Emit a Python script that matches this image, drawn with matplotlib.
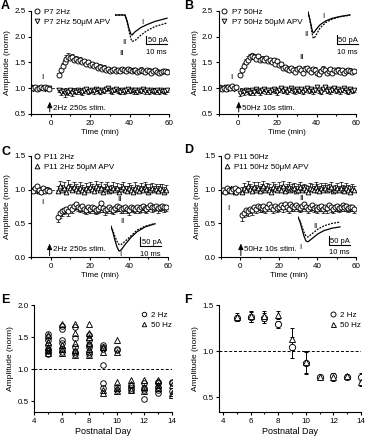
import matplotlib

matplotlib.use("Agg")
import matplotlib.pyplot as plt
from matplotlib.lines import Line2D
from matplotlib.ticker import FormatStrFormatter, MultipleLocator

plt.rcParams["font.family"] = ["Liberation Sans", "DejaVu Sans"]

W, H = 366, 440


def vals(s):
    return [float(v) for v in s.split()]


# sample times (min): 10 min baseline, then post-stimulation
t_2hz = list(range(-10, 0)) + list(range(4, 60))
t_50hz = list(range(-10, 0)) + list(range(1, 60))

# A: P7 2Hz
a_ctl = vals("""1.02 1.00 1.03 0.99 1.01 1.02 1.00 1.03 1.01 0.99
1.25 1.35 1.43 1.50 1.56 1.60 1.58 1.60 1.55 1.57
1.53 1.55 1.50 1.52 1.48 1.50 1.46 1.47 1.43 1.45
1.40 1.42 1.38 1.40 1.36 1.38 1.34 1.36 1.37 1.33
1.35 1.34 1.38 1.35 1.33 1.37 1.35 1.33 1.36 1.35
1.31 1.34 1.36 1.33 1.32 1.36 1.34 1.30 1.33 1.35
1.32 1.29 1.31 1.34 1.33 1.32""")
a_ctl_err = vals("""0.02 0.03 0.02 0.02 0.03 0.02 0.02 0.03 0.02 0.02
0.04 0.05 0.06 0.07 0.08 0.08 0.07 0.06 0.06 0.05
0.05 0.06 0.05 0.05 0.04 0.05 0.05 0.04 0.05 0.04
0.04 0.05 0.04 0.05 0.04 0.04 0.05 0.04 0.04 0.05
0.04 0.05 0.04 0.05 0.04 0.05 0.04 0.05 0.04 0.04
0.05 0.04 0.05 0.04 0.05 0.04 0.05 0.04 0.05 0.04
0.05 0.04 0.05 0.04 0.04 0.05""")
a_apv = vals("""1.00 0.99 1.01 1.00 0.98 1.01 1.00 0.99 1.00 1.00
0.97 0.93 0.95 0.90 0.94 0.92 0.96 0.91 0.95 0.93
0.97 0.94 0.92 0.96 0.98 0.93 0.95 0.97 0.94 0.99
0.96 0.93 0.97 0.95 0.98 1.00 0.96 0.94 0.97 0.99
0.95 0.93 0.97 0.94 0.96 0.98 0.95 0.97 0.94 0.96
0.93 0.97 0.95 0.98 0.94 0.96 0.93 0.97 0.95 0.94
0.96 0.93 0.97 0.95 0.94 0.96""")
a_apv_err = vals("""0.02 0.02 0.03 0.02 0.02 0.03 0.02 0.02 0.03 0.02
0.05 0.06 0.05 0.07 0.05 0.06 0.05 0.06 0.05 0.05
0.04 0.05 0.06 0.05 0.04 0.05 0.05 0.04 0.05 0.04
0.05 0.05 0.04 0.05 0.04 0.04 0.05 0.05 0.04 0.04
0.05 0.05 0.04 0.05 0.05 0.04 0.05 0.04 0.05 0.04
0.05 0.04 0.05 0.04 0.05 0.04 0.05 0.04 0.04 0.05
0.04 0.05 0.04 0.05 0.05 0.04""")

# B: P7 50Hz
b_ctl = vals("""1.02 1.00 0.98 1.01 0.99 1.03 1.00 1.04 1.01 1.02
1.25 1.35 1.43 1.50 1.55 1.60 1.62 1.60 1.57 1.62
1.55 1.57 1.55 1.58 1.52 1.55 1.50 1.55 1.48 1.52
1.45 1.47 1.40 1.42 1.38 1.35 1.40 1.36 1.32 1.37
1.40 1.35 1.30 1.38 1.40 1.35 1.32 1.38 1.36 1.30
1.27 1.33 1.38 1.35 1.30 1.33 1.37 1.30 1.35 1.33
1.36 1.32 1.35 1.30 1.33 1.36 1.34 1.32 1.33""")
b_ctl_err = vals("""0.02 0.02 0.03 0.02 0.02 0.03 0.02 0.03 0.02 0.02
0.04 0.05 0.06 0.06 0.07 0.07 0.07 0.06 0.06 0.05
0.05 0.05 0.05 0.04 0.05 0.04 0.05 0.04 0.05 0.04
0.05 0.04 0.05 0.04 0.05 0.05 0.04 0.05 0.04 0.05
0.04 0.05 0.04 0.05 0.04 0.05 0.05 0.04 0.05 0.04
0.05 0.04 0.05 0.04 0.05 0.04 0.05 0.04 0.05 0.04
0.05 0.04 0.05 0.04 0.05 0.04 0.05 0.04 0.05""")
b_apv = vals("""1.00 1.01 0.99 1.00 1.02 0.99 1.01 1.00 0.98 1.00
0.90 0.95 0.92 0.97 0.94 0.91 0.96 0.93 0.98 0.95
0.92 0.96 0.99 0.94 0.97 0.93 0.96 0.99 0.95 0.92
0.97 1.00 0.95 0.98 0.93 0.97 1.01 0.96 0.94 0.98
0.95 0.99 0.93 0.97 1.00 0.95 0.98 0.94 0.97 1.02
0.96 0.93 0.99 1.03 0.95 0.98 0.94 0.97 1.00 0.95
0.98 0.94 0.97 1.01 0.96 0.93 0.98 0.95 0.97""")
b_apv_err = vals("""0.02 0.02 0.03 0.02 0.03 0.02 0.02 0.03 0.02 0.02
0.06 0.05 0.06 0.05 0.06 0.05 0.05 0.06 0.05 0.05
0.05 0.05 0.04 0.05 0.05 0.05 0.04 0.05 0.05 0.05
0.05 0.04 0.05 0.05 0.05 0.04 0.04 0.05 0.05 0.05
0.05 0.04 0.05 0.05 0.04 0.05 0.05 0.05 0.04 0.04
0.05 0.05 0.04 0.04 0.05 0.05 0.05 0.04 0.04 0.05
0.05 0.05 0.04 0.04 0.05 0.05 0.04 0.05 0.05""")

# C: P11 2Hz
c_ctl = vals("""1.00 0.98 1.02 1.05 1.00 0.97 1.02 0.98 1.00 0.98
0.60 0.65 0.68 0.70 0.72 0.68 0.75 0.72 0.76 0.78
0.75 0.73 0.76 0.72 0.70 0.74 0.72 0.75 0.73 0.70
0.72 0.74 0.80 0.73 0.70 0.72 0.75 0.72 0.70 0.73
0.76 0.74 0.71 0.73 0.75 0.72 0.70 0.74 0.73 0.72
0.75 0.72 0.74 0.76 0.73 0.72 0.74 0.77 0.74 0.75
0.76 0.73 0.75 0.76 0.74 0.75""")
c_ctl_err = vals("""0.02 0.03 0.02 0.03 0.02 0.03 0.02 0.02 0.03 0.02
0.08 0.07 0.07 0.06 0.06 0.07 0.06 0.06 0.06 0.07
0.06 0.06 0.07 0.06 0.06 0.07 0.06 0.06 0.07 0.06
0.06 0.07 0.06 0.06 0.07 0.06 0.06 0.07 0.06 0.06
0.07 0.06 0.06 0.07 0.06 0.06 0.07 0.06 0.06 0.07
0.06 0.06 0.07 0.06 0.06 0.07 0.06 0.06 0.07 0.06
0.06 0.07 0.06 0.06 0.07 0.06""")
c_apv = vals("""1.00 1.01 0.99 1.00 0.98 1.01 1.00 0.99 1.01 1.00
0.98 1.05 1.00 1.03 0.97 1.06 1.02 0.99 1.04 1.01
0.98 1.03 1.00 0.97 1.02 0.99 1.04 1.01 0.98 1.05
1.02 0.99 1.03 0.97 1.01 1.04 0.98 1.00 1.03 0.99
1.02 0.97 1.01 1.04 0.99 0.98 1.02 1.00 0.97 1.03
1.00 0.98 1.02 0.99 1.04 1.01 0.97 1.00 1.03 0.99
1.01 0.98 1.02 1.00 0.97 1.00""")
c_apv_err = vals("""0.02 0.02 0.03 0.02 0.02 0.03 0.02 0.02 0.03 0.02
0.07 0.08 0.07 0.09 0.07 0.08 0.07 0.07 0.08 0.07
0.07 0.08 0.07 0.07 0.08 0.07 0.08 0.07 0.07 0.08
0.07 0.07 0.08 0.07 0.07 0.08 0.07 0.07 0.08 0.07
0.08 0.07 0.07 0.08 0.07 0.07 0.08 0.07 0.07 0.08
0.07 0.07 0.08 0.07 0.08 0.07 0.07 0.08 0.07 0.07
0.08 0.07 0.07 0.08 0.07 0.07""")

# D: P11 50Hz
d_ctl = vals("""0.98 1.00 0.97 1.02 1.00 0.98 1.01 1.03 0.96 1.00
0.62 0.66 0.70 0.68 0.72 0.70 0.74 0.72 0.76 0.74
0.73 0.76 0.72 0.75 0.78 0.74 0.72 0.76 0.73 0.75
0.77 0.74 0.78 0.75 0.72 0.79 0.76 0.74 0.77 0.75
0.73 0.76 0.78 0.74 0.72 0.75 0.77 0.73 0.75 0.72
0.74 0.76 0.72 0.75 0.73 0.77 0.74 0.72 0.75 0.76
0.73 0.75 0.77 0.74 0.76 0.73 0.75 0.74 0.72""")
d_ctl_err = vals("""0.02 0.03 0.02 0.03 0.02 0.02 0.03 0.02 0.03 0.02
0.08 0.07 0.07 0.07 0.06 0.07 0.06 0.07 0.06 0.07
0.06 0.07 0.06 0.06 0.07 0.06 0.07 0.06 0.06 0.07
0.06 0.07 0.06 0.06 0.07 0.06 0.07 0.06 0.06 0.07
0.06 0.07 0.06 0.06 0.07 0.06 0.07 0.06 0.06 0.07
0.06 0.07 0.06 0.06 0.07 0.06 0.07 0.06 0.06 0.07
0.06 0.07 0.06 0.06 0.07 0.06 0.07 0.06 0.06""")
d_apv = vals("""1.00 0.99 1.01 0.98 1.00 1.02 0.99 0.97 1.00 1.01
0.97 1.02 0.99 1.05 1.01 0.98 1.04 1.00 1.03 0.98
1.02 1.05 0.99 1.03 1.00 0.97 1.04 1.01 0.99 1.03
1.00 1.05 0.98 1.02 1.04 0.99 1.01 1.03 0.98 1.00
1.04 0.99 1.02 1.00 0.97 1.03 1.01 0.99 1.04 1.00
0.98 1.02 1.00 1.03 0.99 1.01 1.04 0.98 1.00 1.02
0.99 1.03 1.00 0.98 1.02 1.00 0.97 1.01 0.99""")
d_apv_err = vals("""0.02 0.03 0.02 0.02 0.03 0.02 0.02 0.03 0.02 0.02
0.07 0.08 0.07 0.08 0.07 0.07 0.08 0.07 0.08 0.07
0.07 0.08 0.07 0.07 0.08 0.07 0.08 0.07 0.07 0.08
0.07 0.08 0.07 0.07 0.08 0.07 0.08 0.07 0.07 0.08
0.07 0.08 0.07 0.07 0.08 0.07 0.08 0.07 0.07 0.08
0.07 0.08 0.07 0.07 0.08 0.07 0.08 0.07 0.07 0.08
0.07 0.08 0.07 0.07 0.08 0.07 0.08 0.07 0.07""")

# example EPSC traces (ms, pA): I = baseline, II = after induction
tr_t_a = [0, 5, 6, 7, 8, 8.5, 10, 13, 16, 20, 26]
tr_a_1 = [0, 0, -35, -85, -120, -125, -105, -78, -60, -40, -20]
tr_a_2 = [0, 0, -40, -100, -150, -165, -160, -125, -98, -72, -50]
tr_t_b = [0, 1, 2, 2.5, 3, 4, 6, 9, 12, 16, 21]
tr_b_1 = [0, -50, -110, -130, -128, -110, -80, -55, -40, -28, -18]
tr_b_2 = [0, -55, -130, -160, -165, -145, -100, -65, -45, -30, -20]
tr_t_c = [0, 1, 2, 3, 4, 5, 7, 10, 13, 17, 22]
tr_c_1 = [-20, -60, -110, -150, -175, -170, -135, -90, -55, -25, -5]
tr_c_2 = [-20, -50, -85, -115, -135, -135, -115, -80, -45, -20, -3]
tr_t_d = [0, 1, 2, 3, 4, 5, 7, 10, 13, 17, 21]
tr_d_1 = [0, -30, -75, -120, -150, -155, -135, -105, -85, -70, -62]
tr_d_2 = [0, -25, -60, -95, -120, -125, -105, -75, -55, -40, -32]

# E: individual experiments
e_day_2hz = vals("""5 5 5 5 5 5 5 6 6 6 6 6 6 7 7 7 7 7 8 8 8 8 8 8
9 9 9 9 9 9 10 10 10 10 11 11 11 12 12 12 12 13 13 13 13 13 14 14 14""")
e_amp_2hz = vals("""1.54 1.50 1.45 1.37 1.32 1.28 1.23 1.67 1.62 1.46 1.41 1.31 1.26
1.66 1.48 1.35 1.27 1.23 1.53 1.45 1.38 1.35 1.27 1.23
1.38 1.35 1.31 1.06 0.78 0.71 1.32 1.29 0.72 0.67 0.75 0.71 0.67
0.78 0.70 0.67 0.53 0.80 0.78 0.72 0.68 0.62 0.80 0.78 0.65""")
e_day_50hz = vals("""5 5 5 5 5 6 6 6 6 7 7 7 7 7 8 8 8 8 8 8
9 9 9 9 10 10 10 10 10 11 11 11 12 12 12 13 13 13 14 14 14""")
e_amp_50hz = vals("""1.53 1.43 1.35 1.30 1.25 1.70 1.38 1.32 1.25 1.71 1.56 1.40 1.30 1.22
1.71 1.57 1.50 1.40 1.31 1.22 1.34 1.27 0.67 0.62 1.46 1.26 0.80 0.70 0.65
0.83 0.77 0.67 0.83 0.72 0.65 0.83 0.75 0.70 0.75 0.62 0.60""")

# F: mean +/- SEM per postnatal day
f_days = [5, 6, 7, 8, 9, 10, 11, 12, 13, 14]
f_2hz = [1.36, 1.37, 1.36, 1.29, 1.04, 0.87, 0.72, 0.73, 0.72, 0.72]
f_2hz_err = [0.03, 0.05, 0.05, 0.04, 0.11, 0.12, 0.02, 0.03, 0.02, 0.04]
f_50hz = [1.37, 1.38, 1.38, 1.39, 1.13, 0.88, 0.72, 0.72, 0.73, 0.67]
f_50hz_err = [0.04, 0.06, 0.05, 0.04, 0.12, 0.12, 0.02, 0.04, 0.02, 0.05]

fig = plt.figure(figsize=(W / 100, H / 100), dpi=100)

TICK_FS = 5.8
LEG_FS = 5.8
YLAB_FS = 6


def box(l, t, r, b):
    # pixel box -> figure fraction rect
    return [l / W, 1 - b / H, (r - l) / W, (b - t) / H]


def ftext(x, y, s, **kw):
    kw.setdefault("fontsize", 5.5)
    fig.text(x / W, 1 - y / H, s, **kw)


def fline(xs, ys):
    fig.add_artist(Line2D([x / W for x in xs], [1 - y / H for y in ys], color="k", lw=0.8))


def style(ax):
    for s in ("top", "right"):
        ax.spines[s].set_visible(False)
    for s in ("left", "bottom"):
        ax.spines[s].set_linewidth(0.8)
    ax.tick_params(which="both", direction="out", width=0.8, labelsize=TICK_FS, pad=1.5)
    ax.tick_params(which="major", length=2.5)
    ax.tick_params(which="minor", length=1.5)


def one_sided(err, up):
    zeros = [0] * len(err)
    return [zeros, err] if up else [err, zeros]


def timecourse(ax, t, ctl, ctl_err, apv, apv_err, tri, ctl_up, labels):
    ax.axhline(1.0, color="k", lw=0.6, ls=(0, (3, 2)), zorder=0)
    ax.errorbar(t, apv, yerr=one_sided(apv_err, not ctl_up), fmt="none",
                ecolor="k", elinewidth=0.5, capsize=1.2, capthick=0.5)
    h2, = ax.plot(t, apv, ls="none", marker=tri, ms=3.4, mfc="white", mec="k", mew=0.65)
    ax.errorbar(t, ctl, yerr=one_sided(ctl_err, ctl_up), fmt="none",
                ecolor="k", elinewidth=0.5, capsize=1.2, capthick=0.5)
    h1, = ax.plot(t, ctl, ls="none", marker="o", ms=3.6, mfc="white", mec="k", mew=0.65)
    ax.set_xlim(-10, 60)
    ax.xaxis.set_major_locator(MultipleLocator(20))
    ax.xaxis.set_minor_locator(MultipleLocator(10))
    ax.yaxis.set_major_formatter(FormatStrFormatter("%.1f"))
    ax.set_xlabel("Time (min)", fontsize=5.8, labelpad=2)
    ax.set_ylabel("Amplitude (norm)", fontsize=YLAB_FS, labelpad=2)
    style(ax)
    ax.legend([h1, h2], labels, loc="upper left", bbox_to_anchor=(0.02, 1.03),
              frameon=False, fontsize=LEG_FS, handlelength=0.8, handletextpad=0.5,
              labelspacing=0.3, borderpad=0, borderaxespad=0)


def stim(ax, x, y0, y1, ytext, label):
    ax.annotate("", xy=(x, y1), xytext=(x, y0),
                arrowprops=dict(arrowstyle="-|>,head_length=0.35,head_width=0.15",
                                color="k", lw=0.7, shrinkA=0, shrinkB=0))
    ax.text(x + 1.5, ytext, label, fontsize=5.8, va="center")


def inset(x0, ybase, t, tr1, tr2):
    # 0.5 ms and 6.25 pA per pixel
    axi = fig.add_axes(box(x0, ybase - 8, x0 + 60, ybase + 36))
    axi.set_xlim(0, 30)
    axi.set_ylim(-36 * 6.25, 8 * 6.25)
    axi.axis("off")
    axi.plot(t, tr1, color="k", lw=0.9)
    axi.plot(t, tr2, color="k", lw=0.9, ls=(0, (1.5, 1)))


def scalebar(x, y):
    fline([x, x, x + 21], [y - 8.5, y, y])
    ftext(x + 1.5, y - 4, "50 pA", va="center")
    ftext(x + 10.5, y + 8, "10 ms", ha="center", va="center")


# A
ax_a = fig.add_axes(box(31, 11, 169, 114))
timecourse(ax_a, t_2hz, a_ctl, a_ctl_err, a_apv, a_apv_err, "v", True,
           ["P7 2Hz", "P7 2Hz 50\u03bcM APV"])
ax_a.set_ylim(0.5, 2.5)
ax_a.yaxis.set_major_locator(MultipleLocator(0.5))
stim(ax_a, -0.5, 0.54, 0.74, 0.61, "2Hz 250s stim.")
ax_a.text(-4, 1.2, "I", fontsize=6, ha="center", va="center")
ax_a.text(36, 1.67, "II", fontsize=6, ha="center", va="center")
inset(115, 15, tr_t_a, tr_a_1, tr_a_2)
scalebar(146, 44.5)
ftext(142, 23, "I", ha="center", va="center")
ftext(124, 42, "II", ha="center", va="center")

# B
ax_b = fig.add_axes(box(218.5, 11, 356, 114))
timecourse(ax_b, t_50hz, b_ctl, b_ctl_err, b_apv, b_apv_err, "v", True,
           ["P7 50Hz", "P7 50Hz 50\u03bcM APV"])
ax_b.set_ylim(0.5, 2.5)
ax_b.yaxis.set_major_locator(MultipleLocator(0.5))
stim(ax_b, 0.3, 0.54, 0.74, 0.61, "50Hz 10s stim.")
ax_b.text(-3.5, 1.2, "I", fontsize=6, ha="center", va="center")
ax_b.text(32, 1.6, "II", fontsize=6, ha="center", va="center")
inset(308, 12, tr_t_b, tr_b_1, tr_b_2)
scalebar(337, 44)
ftext(323, 17, "I", ha="center", va="center")
ftext(306, 35, "II", ha="center", va="center")

# C
ax_c = fig.add_axes(box(31, 156, 168, 257))
timecourse(ax_c, t_2hz, c_ctl, c_ctl_err, c_apv, c_apv_err, "^", False,
           ["P11 2Hz", "P11 2Hz 50\u03bcM APV"])
ax_c.set_ylim(0.0, 1.5)
ax_c.yaxis.set_major_locator(MultipleLocator(0.5))
stim(ax_c, -0.5, 0.02, 0.2, 0.11, "2Hz 250s stim.")
ax_c.text(-4, 0.81, "I", fontsize=6, ha="center", va="center")
ax_c.text(35, 0.86, "II", fontsize=6, ha="center", va="center")
inset(111, 223, tr_t_c, tr_c_1, tr_c_2)
scalebar(140, 246)
ftext(122, 221, "II", ha="center", va="center")
ftext(120, 254, "I", ha="center", va="center")

# D
ax_d = fig.add_axes(box(221, 156, 356, 257))
timecourse(ax_d, t_50hz, d_ctl, d_ctl_err, d_apv, d_apv_err, "^", False,
           ["P11 50Hz", "P11 50Hz 50\u03bcM APV"])
ax_d.set_ylim(0.0, 1.5)
ax_d.yaxis.set_major_locator(MultipleLocator(0.5))
stim(ax_d, 0.3, 0.02, 0.2, 0.11, "50Hz 10s stim.")
ax_d.text(-6, 0.72, "I", fontsize=6, ha="center", va="center")
ax_d.text(32, 0.87, "II", fontsize=6, ha="center", va="center")
inset(298, 217, tr_t_d, tr_d_1, tr_d_2)
scalebar(329, 245)
ftext(315, 226, "II", ha="center", va="center")
ftext(300, 247, "I", ha="center", va="center")

# E
ax_e = fig.add_axes(box(34, 305, 172, 412))
ax_e.axhline(1.0, color="k", lw=0.7, ls=(0, (3, 2)), zorder=0)
h1, = ax_e.plot(e_day_2hz, e_amp_2hz, ls="none", marker="o", ms=4, mfc="none", mec="k", mew=0.65)
h2, = ax_e.plot(e_day_50hz, e_amp_50hz, ls="none", marker="^", ms=4, mfc="none", mec="k", mew=0.65)
ax_e.set_xlim(4, 14)
ax_e.set_ylim(0.33, 2.0)
ax_e.xaxis.set_major_locator(MultipleLocator(2))
ax_e.xaxis.set_minor_locator(MultipleLocator(1))
ax_e.yaxis.set_major_locator(MultipleLocator(0.5))
ax_e.yaxis.set_major_formatter(FormatStrFormatter("%.1f"))
ax_e.set_xlabel("Postnatal Day", fontsize=6.5, labelpad=2)
ax_e.set_ylabel("Amplitude (norm)", fontsize=YLAB_FS, labelpad=2)
style(ax_e)
ax_e.legend([h1, h2], ["2 Hz", "50 Hz"], loc="upper right", bbox_to_anchor=(1.0, 0.94),
            frameon=False, fontsize=LEG_FS, handlelength=0.8, handletextpad=0.5,
            labelspacing=0.3, borderpad=0, borderaxespad=0, markerscale=0.8)

# F
ax_f = fig.add_axes(box(219, 305, 361, 412))
ax_f.axhline(1.0, color="k", lw=0.7, ls=(0, (3, 2)), zorder=0)
ax_f.errorbar(f_days, f_2hz, yerr=f_2hz_err, fmt="none", ecolor="k",
              elinewidth=0.7, capsize=1.5, capthick=0.7)
ax_f.errorbar(f_days, f_50hz, yerr=f_50hz_err, fmt="none", ecolor="k",
              elinewidth=0.7, capsize=1.5, capthick=0.7)
h1, = ax_f.plot(f_days, f_2hz, ls="none", marker="o", ms=4.5, mfc="white", mec="k", mew=0.65)
h2, = ax_f.plot(f_days, f_50hz, ls="none", marker="^", ms=4.5, mfc="white", mec="k", mew=0.65)
ax_f.set_xlim(3.7, 14)
ax_f.set_ylim(0.34, 1.5)
ax_f.xaxis.set_major_locator(MultipleLocator(2))
ax_f.xaxis.set_minor_locator(MultipleLocator(1))
ax_f.yaxis.set_major_locator(MultipleLocator(0.5))
ax_f.yaxis.set_major_formatter(FormatStrFormatter("%.1f"))
ax_f.set_xlabel("Postnatal Day", fontsize=6.5, labelpad=2)
ax_f.set_ylabel("Amplitude (norm)", fontsize=YLAB_FS, labelpad=2)
style(ax_f)
ax_f.legend([h1, h2], ["2 Hz", "50 Hz"], loc="upper right", bbox_to_anchor=(1.0, 0.94),
            frameon=False, fontsize=LEG_FS, handlelength=0.8, handletextpad=0.5,
            labelspacing=0.3, borderpad=0, borderaxespad=0, markerscale=0.8)

# panel letters
for letter, x, y in [("A", 1, 0), ("B", 184, 0), ("C", 1, 146), ("D", 184, 144),
                     ("E", 1, 294), ("F", 184, 294)]:
    ftext(x, y, letter, fontsize=9, fontweight="bold", va="top")

fig.savefig("out.png", dpi=100)
